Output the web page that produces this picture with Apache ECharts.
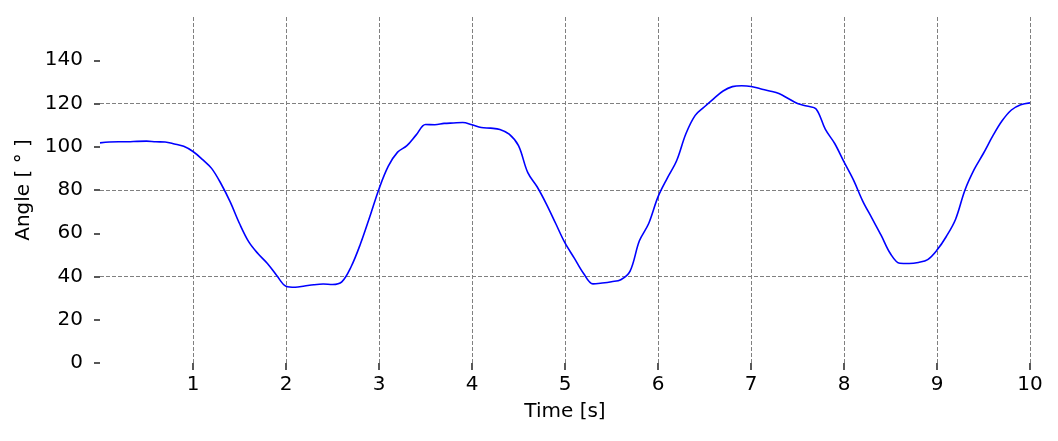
<!DOCTYPE html>
<html>
<head>
<meta charset="utf-8">
<title>Angle vs time</title>
<script src="https://cdn.jsdelivr.net/npm/echarts@6/dist/echarts.min.js"></script>
<style>
  html, body { margin: 0; padding: 0; background: #fff; }
  #chart { width: 1058px; height: 441px; }
</style>
</head>
<body>
<div id="chart"></div>
<script>
// sample times [s]
const timeS = [
  0.0, 0.1, 0.2, 0.3, 0.4, 0.5, 0.6, 0.7, 0.8, 0.9,
  1.0, 1.1, 1.2, 1.3, 1.4, 1.5, 1.6, 1.7, 1.8, 1.9,
  2.0, 2.1, 2.2, 2.3, 2.4, 2.5, 2.6, 2.7, 2.8, 2.9,
  3.0, 3.1, 3.2, 3.3, 3.4, 3.5, 3.6, 3.7, 3.8, 3.9,
  4.0, 4.1, 4.2, 4.3, 4.4, 4.5, 4.6, 4.7, 4.8, 4.9,
  5.0, 5.1, 5.2, 5.3, 5.4, 5.5, 5.6, 5.7, 5.8, 5.9,
  6.0, 6.1, 6.2, 6.3, 6.4, 6.5, 6.6, 6.7, 6.8, 6.9,
  7.0, 7.1, 7.2, 7.3, 7.4, 7.5, 7.6, 7.7, 7.8, 7.9,
  8.0, 8.1, 8.2, 8.3, 8.4, 8.5, 8.6, 8.7, 8.8, 8.9,
  9.0, 9.1, 9.2, 9.3, 9.4, 9.5, 9.6, 9.7, 9.8, 9.9,
  10.0
]

const angleDeg = [
  101.8, 102.2, 102.3, 102.3, 102.5, 102.6, 102.3, 102.2, 101.3, 100.2,
  97.8, 94.2, 90.0, 83.0, 74.5, 64.5, 56.0, 50.5, 46.0, 40.5,
  35.5, 35.0, 35.6, 36.2, 36.5, 36.3, 37.5, 44.5, 55.0, 67.5,
  80.5, 91.0, 97.5, 100.5, 105.5, 110.3, 110.2, 110.8, 111.0, 111.2,
  110.2, 108.9, 108.6, 108.0, 105.8, 100.5, 88.0, 81.5, 73.5, 64.5,
  55.5, 48.5, 41.4, 36.6, 37.0, 37.6, 38.5, 42.5, 56.5, 64.5,
  76.8, 85.5, 93.5, 106.0, 114.5, 118.5, 122.3, 125.8, 127.8, 128.2,
  127.9, 126.8, 125.8, 124.6, 122.3, 120.0, 118.8, 117.5, 108.0, 101.5,
  93.0, 84.8, 75.0, 67.0, 59.0, 50.5, 46.1, 46.0, 46.5, 47.8,
  52.2, 58.5, 66.5, 79.9, 89.5, 97.0, 105.0, 112.0, 117.0, 119.4,
  120.3
]

const xTickValues = [1, 2, 3, 4, 5, 6, 7, 8, 9, 10]
const yTickValues = [0, 20, 40, 60, 80, 100, 120, 140]

const chart = echarts.init(document.getElementById('chart'), null, { renderer: 'canvas' })

const textStyle = { color: '#000', fontSize: 20, fontFamily: 'DejaVu Sans' }
const gridLine = { color: '#808080', width: 1, type: [4, 2] }

chart.setOption({
  animation: false,
  backgroundColor: '#fff',
  grid: { left: 100, right: 28, top: 17, bottom: 78 },
  xAxis: {
    type: 'value',
    min: 0,
    max: 10,
    interval: 1,
    name: 'Time [s]',
    nameLocation: 'middle',
    nameGap: 39,
    nameTextStyle: textStyle,
    axisLine: { show: false },
    axisTick: { show: true, customValues: xTickValues, length: 7, lineStyle: { color: '#222', width: 1.5 } },
    axisLabel: { customValues: xTickValues, margin: 12, ...textStyle },
    splitLine: { show: true, lineStyle: gridLine },
  },
  yAxis: [
    {
      type: 'value',
      min: 0,
      max: 160,
      interval: 20,
      name: 'Angle [ ° ]',
      nameLocation: 'middle',
      nameGap: 66,
      nameTextStyle: textStyle,
      axisLine: { show: false },
      axisTick: { show: true, customValues: yTickValues, length: 6, lineStyle: { color: '#222', width: 1.5 } },
      axisLabel: { customValues: yTickValues, margin: 17, ...textStyle },
      splitLine: { show: false },
    },
    {
      // dashed guides at 40/80/120 only
      type: 'value',
      min: 0,
      max: 160,
      interval: 40,
      position: 'right',
      axisLine: { show: false },
      axisTick: { show: false },
      axisLabel: { show: false },
      splitLine: { show: true, showMinLine: false, showMaxLine: false, lineStyle: gridLine },
    },
  ],
  series: [{
    type: 'line',
    yAxisIndex: 0,
    showSymbol: false,
    smooth: 0.35,
    lineStyle: { color: '#0000ff', width: 1.6 },
    data: timeS.map((t, i) => [t, angleDeg[i]]),
    z: 3,
  }],
})
</script>
</body>
</html>
